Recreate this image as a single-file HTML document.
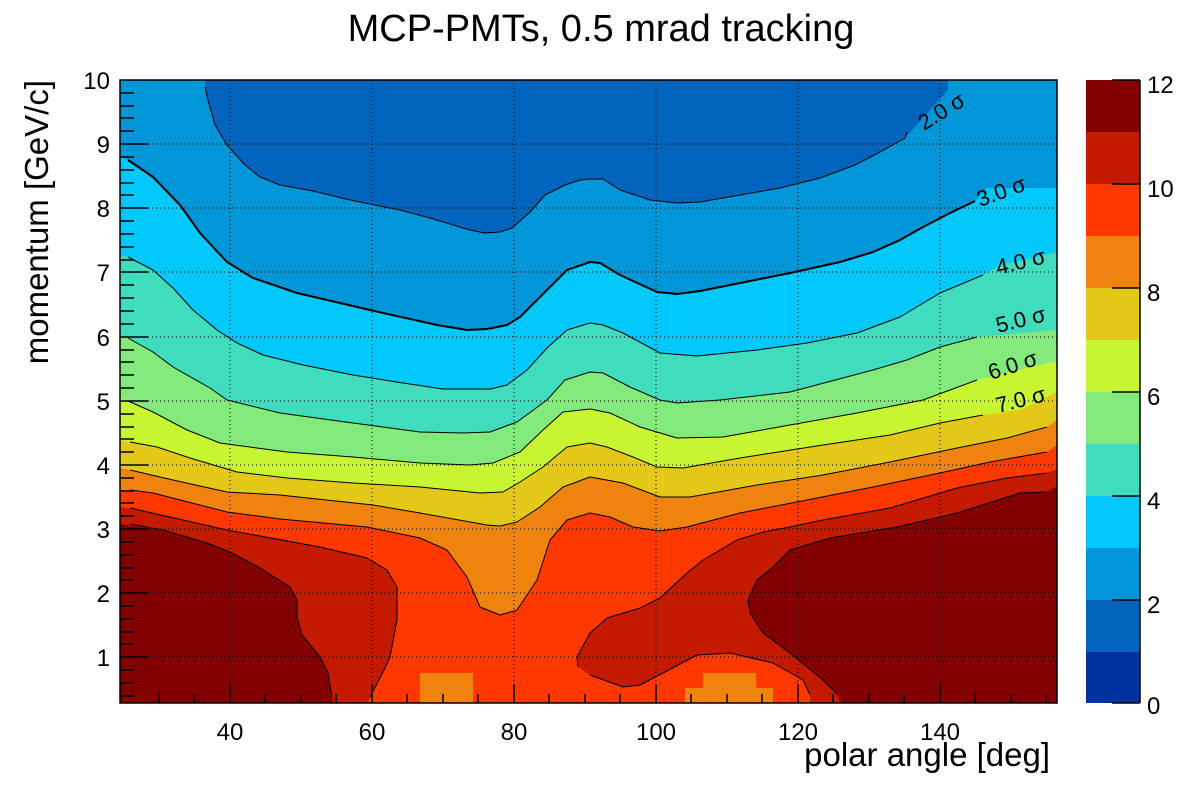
<!DOCTYPE html>
<html><head><meta charset="utf-8"><style>
html,body{margin:0;padding:0;background:#fff;}
svg{display:block;font-family:"Liberation Sans",sans-serif;}
</style></head><body>
<svg width="1200" height="800" viewBox="0 0 1200 800" xmlns="http://www.w3.org/2000/svg">
<defs><clipPath id="c"><rect x="120" y="80" width="937" height="623"/></clipPath></defs>
<g clip-path="url(#c)">
<rect x="120" y="80" width="937" height="623" fill="#0096d8"/>
<polygon fill="#0064bc" points="205,80 205,87 208,100 215,125 227,145 245,165 260,177 280,185 313,191 350,200 400,210 430,218 470,230 485,233 500,232 512,228 530,212 545,195 565,185 580,180 590,179 603,179 620,190 650,200 677,203 700,202 740,195 780,188 820,178 855,165 880,152 905,138 930,110 948,90 948,80"/>
<polygon fill="#00c8fa" points="120,157 128,160 153,177 180,205 200,233 227,262 253,278 297,293 370,310 437,325 467,330 487,329 507,325 520,317 540,297 567,270 590,262 600,263 620,275 657,292 677,294 700,291 740,283 790,273 840,262 873,252 900,240 923,227 950,213 975,201 987,188 1057,188 1057,703 120,703"/>
<polygon fill="#3fdcbe" points="120,255 128,257 153,270 173,288 193,310 217,330 237,343 263,355 303,365 353,375 403,383 443,389 490,389 507,385 527,370 547,348 567,330 590,323 603,325 623,333 660,353 697,356 757,350 807,343 857,333 900,317 940,293 983,275 1000,265 1057,252 1057,703 120,703"/>
<polygon fill="#82ea7a" points="120,335 128,338 153,352 173,367 210,388 227,400 280,413 353,423 420,432 463,433 490,432 517,422 547,400 565,380 590,372 603,373 630,387 660,400 677,403 720,400 790,392 873,370 907,360 940,347 977,337 1057,330 1057,703 120,703"/>
<polygon fill="#c8f532" points="120,398 128,401 153,412 187,430 220,443 287,452 353,457 420,463 470,465 493,463 520,452 543,430 563,412 590,409 610,413 640,427 677,438 723,437 790,425 857,413 923,400 977,380 1057,361 1057,703 120,703"/>
<polygon fill="#e4c818" points="120,440 130,442 157,447 190,458 237,472 287,478 353,483 420,487 480,493 503,492 520,482 543,467 567,447 590,443 607,447 633,457 657,467 683,468 740,458 823,445 890,435 940,423 983,415 1020,410 1057,392 1057,703 120,703"/>
<polygon fill="#f0820e" points="120,468 130,470 173,480 227,492 280,495 373,505 420,513 487,525 500,526 517,522 540,507 563,487 590,477 623,483 660,497 690,497 757,485 823,475 890,462 957,448 1007,438 1047,427 1057,420 1057,703 120,703"/>
<polygon fill="#ff3800" points="120,490 153,493 227,512 280,519 367,527 420,538 447,550 467,577 480,607 500,615 517,610 537,580 550,540 567,520 590,513 610,517 633,527 660,531 687,527 740,513 807,500 873,487 940,473 990,462 1047,452 1057,445 1057,703 120,703"/>
<rect x="420" y="673" width="53" height="30" fill="#f0820e"/>
<rect x="703" y="673" width="53" height="15" fill="#f0820e"/>
<rect x="685" y="688" width="88" height="15" fill="#f0820e"/>
<polygon fill="#c31a00" points="120,507 128,508 227,530 320,547 367,558 387,570 397,587 397,620 390,657 383,672 370,697 368,703 120,703"/>
<polygon fill="#c31a00" points="578,667 577,657 590,633 607,618 640,608 660,598 687,573 703,560 737,540 763,532 790,527 823,520 890,508 957,488 1007,478 1047,473 1057,469 1057,703 810,703 810,695 803,680 773,663 730,653 697,655 663,673 640,685 623,687 590,675"/>
<polygon fill="#820000" points="120,524 163,530 207,543 230,552 260,568 290,587 297,600 297,617 302,635 320,657 328,673 332,697 333,703 120,703"/>
<polygon fill="#820000" points="1057,486 1047,492 1020,493 957,513 897,527 830,538 790,550 773,567 757,580 748,600 750,613 763,633 790,653 823,680 838,695 840,703 1057,703"/>
<g stroke="#000" stroke-width="1" stroke-dasharray="1,3" fill="none">
<line x1="230" y1="80" x2="230" y2="703"/><line x1="372" y1="80" x2="372" y2="703"/><line x1="514" y1="80" x2="514" y2="703"/><line x1="656" y1="80" x2="656" y2="703"/><line x1="798" y1="80" x2="798" y2="703"/><line x1="940" y1="80" x2="940" y2="703"/>
<line x1="120" y1="144" x2="1057" y2="144"/><line x1="120" y1="208" x2="1057" y2="208"/><line x1="120" y1="272" x2="1057" y2="272"/><line x1="120" y1="337" x2="1057" y2="337"/><line x1="120" y1="401" x2="1057" y2="401"/><line x1="120" y1="465" x2="1057" y2="465"/><line x1="120" y1="529" x2="1057" y2="529"/><line x1="120" y1="593" x2="1057" y2="593"/><line x1="120" y1="657" x2="1057" y2="657"/>
</g>
<g fill="none" stroke="#000" stroke-width="1" stroke-linejoin="round">
<polyline points="205,87 208,100 215,125 227,145 245,165 260,177 280,185 313,191 350,200 400,210 430,218 470,230 485,233 500,232 512,228 530,212 545,195 565,185 580,180 590,179 603,179 620,190 650,200 677,203 700,202 740,195 780,188 820,178 855,165 880,152 905,138 907,132"/>
<polyline stroke-width="2" points="128,160 153,177 180,205 200,233 227,262 253,278 297,293 370,310 437,325 467,330 487,329 507,325 520,317 540,297 567,270 590,262 600,263 620,275 657,292 677,294 700,291 740,283 790,273 840,262 873,252 900,240 923,227 950,213 975,201"/>
<polyline points="128,257 153,270 173,288 193,310 217,330 237,343 263,355 303,365 353,375 403,383 443,389 490,389 507,385 527,370 547,348 567,330 590,323 603,325 623,333 660,353 697,356 757,350 807,343 857,333 900,317 940,293 983,275"/>
<polyline points="128,338 153,352 173,367 210,388 227,400 280,413 353,423 420,432 463,433 490,432 517,422 547,400 565,380 590,372 603,373 630,387 660,400 677,403 720,400 790,392 873,370 907,360 940,347 977,337"/>
<polyline points="128,401 153,412 187,430 220,443 287,452 353,457 420,463 470,465 493,463 520,452 543,430 563,412 590,409 610,413 640,427 677,438 723,437 790,425 857,413 923,400 977,380"/>
<polyline points="130,442 157,447 190,458 237,472 287,478 353,483 420,487 480,493 503,492 520,482 543,467 567,447 590,443 607,447 633,457 657,467 683,468 740,458 823,445 890,435 940,423 983,415"/>
<polyline points="130,470 173,480 227,492 280,495 373,505 420,513 487,525 500,526 517,522 540,507 563,487 590,477 623,483 660,497 690,497 757,485 823,475 890,462 957,448 1007,438 1047,427"/>
<polyline points="130,490 153,493 227,512 280,519 367,527 420,538 447,550 467,577 480,607 500,615 517,610 537,580 550,540 567,520 590,513 610,517 633,527 660,531 687,527 740,513 807,500 873,487 940,473 990,462 1047,452"/>
<polyline points="130,508 227,530 320,547 367,558 387,570 397,587 397,620 390,657 383,672 370,697"/>
<polyline points="578,667 577,657 590,633 607,618 640,608 660,598 687,573 703,560 737,540 763,532 790,527 823,520 890,508 957,488 1007,478 1047,473"/>
<polyline points="590,675 623,687 640,685 663,673 697,655 730,653 773,663 803,680 810,695"/>
<polyline points="130,524 163,530 207,543 230,552 260,568 290,587 297,600 297,617 302,635 320,657 328,673 332,697"/>
<polyline points="1047,492 1020,493 957,513 897,527 830,538 790,550 773,567 757,580 748,600 750,613 763,633 790,653 823,680 838,695"/>
</g>
<g font-size="22" fill="#000">
<text transform="translate(924,131) rotate(-32)">2.0 σ</text>
<text transform="translate(980,207) rotate(-20)">3.0 σ</text>
<text transform="translate(998,275) rotate(-14)">4.0 σ</text>
<text transform="translate(998,333) rotate(-14)">5.0 σ</text>
<text transform="translate(991,380) rotate(-18)">6.0 σ</text>
<text transform="translate(998,413) rotate(-14)">7.0 σ</text>
</g>
</g>
<rect x="120" y="80" width="937" height="623" fill="none" stroke="#000" stroke-width="1.5"/>
<g stroke="#000" stroke-width="1.5">
<path d="M230 703v-19M372 703v-19M514 703v-19M656 703v-19M798 703v-19M940 703v-19"/>
<path d="M159 703v-9M194 703v-9M265 703v-9M301 703v-9M336 703v-9M407 703v-9M443 703v-9M478 703v-9M549 703v-9M585 703v-9M620 703v-9M691 703v-9M727 703v-9M762 703v-9M833 703v-9M869 703v-9M904 703v-9M975 703v-9M1011 703v-9M1046 703v-9"/>
<path d="M120 144h28M120 208h28M120 272h28M120 337h28M120 401h28M120 465h28M120 529h28M120 593h28M120 657h28"/>
<path d="M120 93h14M120 106h14M120 118h14M120 131h14M120 157h14M120 170h14M120 183h14M120 195h14M120 221h14M120 234h14M120 247h14M120 260h14M120 285h14M120 298h14M120 311h14M120 324h14M120 350h14M120 362h14M120 375h14M120 388h14M120 414h14M120 427h14M120 439h14M120 452h14M120 478h14M120 491h14M120 503h14M120 516h14M120 542h14M120 555h14M120 568h14M120 580h14M120 606h14M120 619h14M120 632h14M120 644h14M120 670h14M120 683h14M120 696h14"/>
</g>
<g font-size="24" fill="#000" text-anchor="middle">
<text x="230" y="740">40</text><text x="372" y="740">60</text><text x="514" y="740">80</text><text x="656" y="740">100</text><text x="798" y="740">120</text><text x="940" y="740">140</text>
</g>
<g font-size="24" fill="#000" text-anchor="end">
<text x="110" y="89">10</text><text x="110" y="153">9</text><text x="110" y="217">8</text><text x="110" y="281">7</text><text x="110" y="346">6</text><text x="110" y="410">5</text><text x="110" y="474">4</text><text x="110" y="538">3</text><text x="110" y="602">2</text><text x="110" y="666">1</text>
</g>
<text x="601" y="41" font-size="38" text-anchor="middle">MCP-PMTs, 0.5 mrad tracking</text>
<text x="1050" y="766" font-size="33" text-anchor="end">polar angle [deg]</text>
<text transform="translate(48,80) rotate(-90)" font-size="33" text-anchor="end">momentum [GeV/c]</text>
<g>
<rect x="1086" y="80" width="54" height="52" fill="#820000"/>
<rect x="1086" y="132" width="54" height="52" fill="#c31a00"/>
<rect x="1086" y="184" width="54" height="52" fill="#ff3800"/>
<rect x="1086" y="236" width="54" height="52" fill="#f0820e"/>
<rect x="1086" y="288" width="54" height="52" fill="#e4c818"/>
<rect x="1086" y="340" width="54" height="52" fill="#c8f532"/>
<rect x="1086" y="392" width="54" height="52" fill="#82ea7a"/>
<rect x="1086" y="444" width="54" height="52" fill="#3fdcbe"/>
<rect x="1086" y="496" width="54" height="52" fill="#00c8fa"/>
<rect x="1086" y="548" width="54" height="52" fill="#0096d8"/>
<rect x="1086" y="600" width="54" height="52" fill="#0064bc"/>
<rect x="1086" y="652" width="54" height="51" fill="#0033a0"/>
<path stroke="#000" stroke-width="1.5" d="M1140 80V703M1112 80h28M1112 184h28M1112 288h28M1112 392h28M1112 496h28M1112 600h28M1112 703h28"/>
</g>
<g font-size="24" fill="#000">
<text x="1147" y="93">12</text><text x="1147" y="197">10</text><text x="1147" y="301">8</text><text x="1147" y="405">6</text><text x="1147" y="509">4</text><text x="1147" y="613">2</text><text x="1147" y="714">0</text>
</g>
</svg>
</body></html>
